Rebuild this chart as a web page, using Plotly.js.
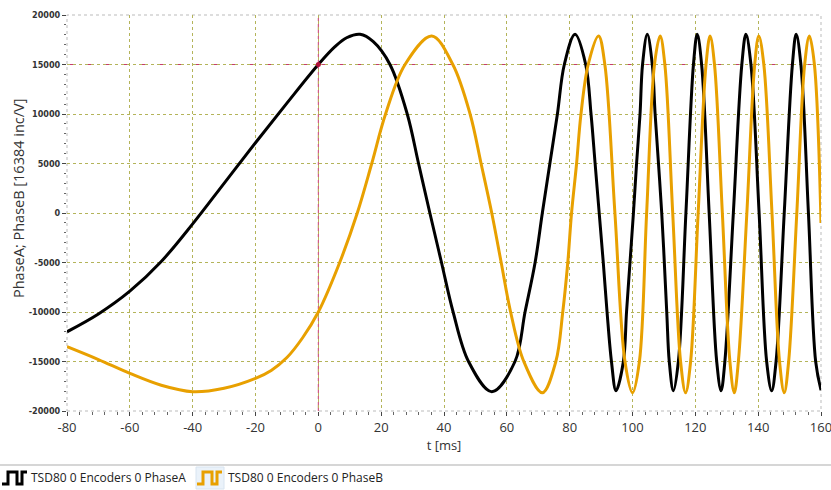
<!DOCTYPE html>
<html><head><meta charset="utf-8">
<script src="https://cdn.plot.ly/plotly-3.0.1.min.js"></script>
<style>html,body{margin:0;padding:0;background:#fff;}#chart{width:831px;height:490px;}</style>
</head><body><div id="chart"></div>
<script>
// PhaseA (black) samples: time [ms], value [inc]
const tA = [-80,-70,-60,-50,-40,-30,-20,-10,0,5.3,9,13.3,17.5,22.8,28.3,31.9,35.5,39.2,42.9,47.8,55.2,62.6,65.8,69,71.3,73.7,76.1,78.3,81.7,85.1,86.8,88.1,89.4,90.7,91.9,93.3,94.75,97.1,98.1,99.2,100.3,101.3,102.4,103.2,104.7,106.3,107.2,109.3,110.9,111.7,113,114.6,117,119.4,120.6,122,124.4,126.8,128.2,129.4,132.1,134.8,136.1,137.7,140.3,142.7,144.3,145.7,148.3,150.9,152.1,153.6,156,158.3,160];
const vA = [-12000,-10200,-7900,-4900,-1100,3000,7100,11100,15000,16800,17700,18050,17300,15000,10000,5000,0,-5000,-10000,-15000,-18050,-15000,-10000,-5000,0,5000,10000,15000,18050,15000,10000,5000,0,-5000,-10000,-15000,-17950,-15000,-10000,-5000,0,5000,10000,15000,18050,15000,10000,0,-10000,-15000,-17950,-15000,0,15000,18050,15000,0,-15000,-17950,-15000,0,15000,18050,15000,0,-15000,-17950,-15000,0,15000,18050,15000,0,-15000,-17900];
// PhaseB (orange) samples
const tB = [-80,-70,-60,-50,-40,-30,-20,-15,-10,-5,0,6.8,12.4,17,21.4,27.6,36.1,42.8,48.3,51.8,55.2,58.2,61.2,65.4,71.3,75.6,77.8,79.4,80.6,82.2,83.6,85.9,89.2,91.2,94.4,97.6,100,102.2,104.5,107,108.8,110.3,112.8,115.3,116.9,118.5,120.9,123.4,124.7,126.1,128.6,131,132.4,133.7,136.4,138.9,140.2,141.8,144.4,146.8,148.3,149.7,152.3,154.8,156.3,157.9,160];
const vB = [-13500,-14800,-16200,-17400,-18050,-17700,-16700,-15900,-14600,-12600,-10000,-5000,0,5000,10000,15000,17880,15000,10000,5000,0,-5000,-10000,-15000,-18150,-15000,-10000,-5000,0,5000,10000,15000,17880,15000,0,-15000,-18150,-15000,0,15000,17880,15000,0,-15000,-18150,-15000,0,15000,17880,15000,0,-15000,-18150,-15000,0,15000,17880,15000,0,-15000,-18150,-15000,0,15000,17880,15000,-1000];
// cursor position
const cursorX = [0];
const cursorY = [15000];
// tick labels
const xTickVals = [-80,-60,-40,-20,0,20,40,60,80,100,120,140,160];
const xTickText = ['-80','-60','-40','-20','0','20','40','60','80','100','120','140','160'];
const yTickVals = [-20000,-15000,-10000,-5000,0,5000,10000,15000,20000];
const yTickText = ['-20000','-15000','-10000','-5000','0','5000','10000','15000','20000'];
const seriesNames = ['TSD80 0 Encoders 0 PhaseA', 'TSD80 0 Encoders 0 PhaseB'];
const xTitle = 't [ms]';
const yTitle = 'PhaseA; PhaseB [16384 inc/V]';

const W = 831, H = 490, L = 67, R = 10, T = 15, B = 79;
const pw = W - L - R, ph = H - T - B;
const px = x => (x - L) / pw;
const py = y => (H - B - y) / ph;

const black = '#000000', orange = '#E8A000', cursorCol = '#C83A6E', gridCol = '#B4B45A';

const traces = [
  {x: tA, y: vA, mode: 'lines', line: {color: black, width: 3, shape: 'spline', smoothing: 1}, name: seriesNames[0], hoverinfo: 'skip'},
  {x: tB, y: vB, mode: 'lines', line: {color: orange, width: 3, shape: 'spline', smoothing: 1}, name: seriesNames[1], hoverinfo: 'skip'},
  {x: cursorX, y: cursorY, mode: 'markers', marker: {color: '#B0103A', size: 5}, hoverinfo: 'skip'}
];

function iconPath(x0, col) {
  const pts = [[x0, 484], [x0 + 6, 484], [x0 + 6, 472], [x0 + 15, 472], [x0 + 15, 484], [x0 + 20, 484], [x0 + 20, 472], [x0 + 25, 472]];
  return {type: 'path', xref: 'paper', yref: 'paper', path: pts.map((p, i) => (i ? 'L' : 'M') + px(p[0]) + ',' + py(p[1])).join(' '), line: {color: col, width: 3}};
}

const shapes = [
  {type: 'rect', xref: 'paper', yref: 'paper', x0: 0, x1: 1, y0: 0, y1: 1, line: {color: '#BBBBBB', width: 1, dash: 'dot'}, layer: 'below'},
  {type: 'line', xref: 'x', yref: 'paper', x0: cursorX[0], x1: cursorX[0], y0: 0, y1: 1, line: {color: cursorCol, width: 1, dash: 'dashdot'}, layer: 'below'},
  {type: 'line', xref: 'paper', yref: 'y', x0: 0, x1: 1, y0: cursorY[0], y1: cursorY[0], line: {color: cursorCol, width: 1, dash: 'dashdot'}, layer: 'below'},
  {type: 'line', xref: 'paper', yref: 'paper', x0: px(0), x1: px(W), y0: py(465), y1: py(465), line: {color: '#C8C8C8', width: 1.5}},
  {type: 'rect', xref: 'paper', yref: 'paper', x0: px(196), x1: px(224), y0: py(467), y1: py(489), fillcolor: '#EAF2FA', line: {color: '#D8E4F0', width: 1}},
  iconPath(2, black),
  iconPath(197, orange)
];

const annotations = [
  {xref: 'paper', yref: 'paper', x: px(29), y: py(477), xanchor: 'left', yanchor: 'middle', text: seriesNames[0], showarrow: false, font: {family: 'Open Sans, sans-serif', size: 12, color: '#222'}},
  {xref: 'paper', yref: 'paper', x: px(226), y: py(477), xanchor: 'left', yanchor: 'middle', text: seriesNames[1], showarrow: false, font: {family: 'Open Sans, sans-serif', size: 12, color: '#222'}},
  {xref: 'paper', yref: 'paper', x: px(18), y: py(198), xanchor: 'center', yanchor: 'middle', textangle: -90, text: yTitle, showarrow: false, font: {family: 'Open Sans, sans-serif', size: 14.5, color: '#333'}}
];

const layout = {
  width: W, height: H,
  margin: {l: L, r: R, t: T, b: B, pad: 0},
  paper_bgcolor: '#fff', plot_bgcolor: '#fff',
  showlegend: false,
  font: {family: 'Open Sans, sans-serif', color: '#333'},
  xaxis: {
    range: [-80, 160], tickmode: 'array', tickvals: xTickVals, ticktext: xTickText, zeroline: false,
    showgrid: true, gridcolor: gridCol, griddash: 'dot', gridwidth: 1,
    ticks: 'outside', ticklen: 4, tickcolor: '#444', tickwidth: 1,
    minor: {dtick: 4, tick0: 0, ticks: 'outside', ticklen: 3, tickcolor: '#666', showgrid: false},
    showline: false, ticklabeloverflow: 'allow',
    tickfont: {family: 'Open Sans, sans-serif', size: 13, color: '#333'},
    title: {text: xTitle, font: {family: 'Open Sans, sans-serif', size: 13, color: '#333'}, standoff: 6}
  },
  yaxis: {
    range: [-20000, 20000], tickmode: 'array', tickvals: yTickVals, ticktext: yTickText, zeroline: false,
    showgrid: true, gridcolor: gridCol, griddash: 'dot', gridwidth: 1,
    ticks: 'outside', ticklen: 4, tickcolor: '#444', tickwidth: 1,
    minor: {dtick: 1000, tick0: 0, ticks: 'outside', ticklen: 2, tickcolor: '#666', showgrid: false},
    showline: false, ticklabeloverflow: 'allow',
    tickfont: {family: 'DejaVu Sans Condensed, sans-serif', size: 9, color: '#333', weight: 'bold'}
  },
  shapes: shapes,
  annotations: annotations
};

Plotly.newPlot('chart', traces, layout, {staticPlot: true, displayModeBar: false});
</script>
</body></html>
